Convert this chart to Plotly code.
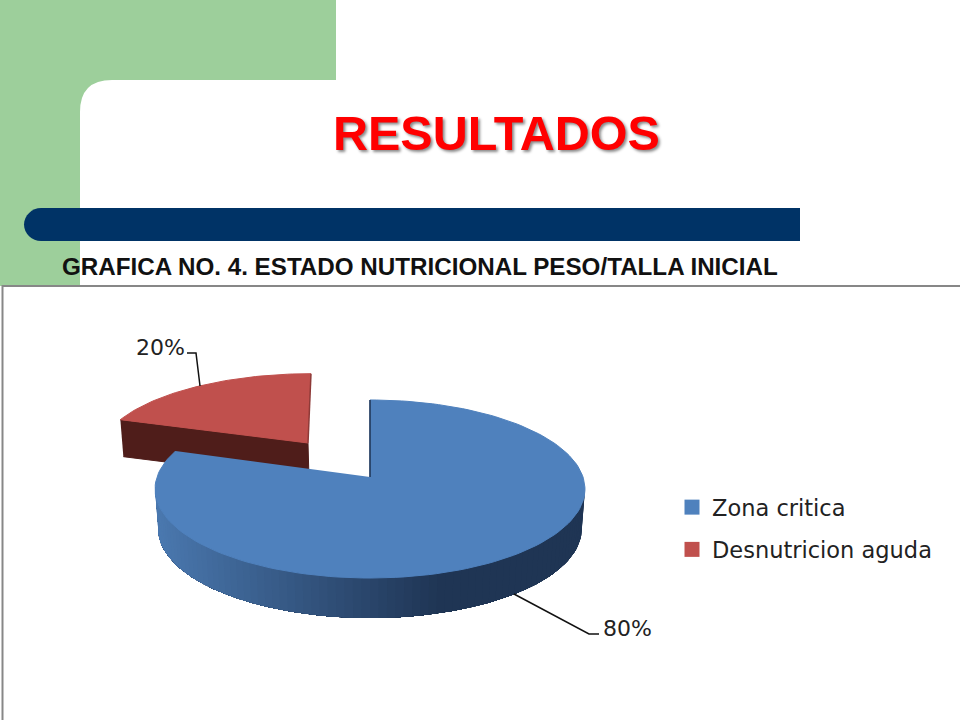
import numpy as np
import plotly.graph_objects as go

# Datos de la grafica
categorias = ["Zona critica", "Desnutricion aguda"]
valores = [80, 20]
colores = ["#4f81bd", "#c0504d"]
titulo = "RESULTADOS"
subtitulo = "GRAFICA NO. 4. ESTADO NUTRICIONAL PESO/TALLA INICIAL"


def rim(theta, apex_x, apex_y, sx=1.0, sy=1.0, drop=0, shear=0.0):
    # borde de la torta en perspectiva, theta en grados desde arriba (sentido horario)
    u = np.sin(np.radians(theta))
    v = np.cos(np.radians(theta))
    w = 1 + 0.1348 * v
    y = apex_y + sy * (477 - 23.1 * v) / w - sy * 477 + drop
    x = apex_x + sx * 213 * u / w + shear * (apex_y - y)
    return x, y


def mix(c1, c2, t):
    a = [int(c1[i:i + 2], 16) for i in (1, 3, 5)]
    b = [int(c2[i:i + 2], 16) for i in (1, 3, 5)]
    return "rgb(%d,%d,%d)" % tuple(a[i] + (b[i] - a[i]) * t for i in range(3))


def poly(fig, x, y, color, line=None):
    fig.add_trace(go.Scatter(x=x, y=y, mode="lines", fill="toself", fillcolor=color,
                             line=dict(color=line or color, width=1 if line != "rgba(0,0,0,0)" else 0),
                             hoverinfo="skip", showlegend=False))


fig = go.Figure()

# angulos de cada rebanada a partir de los valores
fin_azul = valores[0] / sum(valores) * 360
fin_rojo = fin_azul + valores[1] / sum(valores) * 360

# rebanada roja (separada)
rx0, ry0 = 308, 443
th = np.linspace(fin_azul, fin_rojo, 50)
x, y = rim(th, rx0, ry0, sx=0.97, sy=0.9, shear=0.043)
xl, yl = x[0], y[0]
poly(fig, [xl, rx0, rx0 + 1, xl + 3], [yl, ry0, ry0 + 37, yl + 37], "#4f1d1a")
poly(fig, np.r_[rx0, x], np.r_[ry0, y], colores[1])
fig.add_trace(go.Scatter(x=[x[-1], rx0], y=[y[-1], ry0], mode="lines",
                         line=dict(color="#8e3a38", width=1.5), hoverinfo="skip", showlegend=False))

# pared lateral azul con degradado: cada tramo tapa al anterior para que no se vean cortes
bx0, by0 = 370, 477
pasos = np.linspace(96, 264, 85)
for i, a in enumerate(pasos[:-1]):
    tt = pasos[i:]
    x1, y1 = rim(tt, bx0, by0)
    x2, y2 = rim(tt, bx0, by0, sx=0.985, drop=40)
    t = min(1, max(0, (x1[0] - 156) / 290))
    col = mix("#4b79b0", "#1f3554", t)
    poly(fig, np.r_[x1, x2[::-1]], np.r_[y1, y2[::-1]], col, line="rgba(0,0,0,0)")

# rebanada azul
th = np.linspace(0, fin_azul, 150)
x, y = rim(th, bx0, by0)
poly(fig, np.r_[bx0, x], np.r_[by0, y], colores[0])
fig.add_trace(go.Scatter(x=[x[0], bx0], y=[y[0], by0], mode="lines",
                         line=dict(color="#1f3554", width=1.5), hoverinfo="skip", showlegend=False))

# leyenda
for i, (cat, col) in enumerate(zip(categorias, colores)):
    fig.add_trace(go.Scatter(x=[None], y=[None], mode="markers", name=cat, legendgroup=cat,
                             marker=dict(symbol="square", size=15, color=col)))

shapes = [
    # fondo verde de la diapositiva
    dict(type="rect", x0=0, x1=336, y0=0, y1=80, fillcolor="#9dcf9b", line_width=0, layer="below"),
    dict(type="rect", x0=0, x1=80, y0=0, y1=286, fillcolor="#9dcf9b", line_width=0, layer="below"),
    dict(type="path", path="M 80 80 L 112 80 Q 80 80 80 112 Z", fillcolor="#9dcf9b", line_width=0, layer="below"),
    # barra azul
    dict(type="path", path="M 800 208 L 41 208 C 32 208 24 215.5 24 224.5 C 24 233.5 32 241 41 241 L 800 241 Z",
         fillcolor="#003366", line_width=0, layer="below"),
    # marco del grafico
    dict(type="rect", x0=2.5, x1=962, y0=286, y1=722, fillcolor="white",
         line=dict(color="#878787", width=2), layer="below"),
    # lineas guia de las etiquetas
    dict(type="path", path="M 200 386 L 196 353 L 187 353", line=dict(color="#111", width=1.5)),
    dict(type="path", path="M 514 594 L 589 634 L 599 634", line=dict(color="#111", width=1.5)),
]

etiquetas = [
    dict(x=496, y=133, text="<b>%s</b>" % titulo,
         font=dict(family="Liberation Sans", size=48.5, color="#ff0000", shadow="2px 2px 3px #8a8a8a")),
    dict(x=419.5, y=266.5, text="<b>%s</b>" % subtitulo, font=dict(family="Liberation Sans", size=24.2, color="#111111")),
    dict(x=160, y=347, text="%d%%" % valores[1], font=dict(family="DejaVu Sans", size=22, color="#222222")),
    dict(x=627, y=628, text="%d%%" % valores[0], font=dict(family="DejaVu Sans", size=22, color="#222222")),
]

fig.update_layout(
    width=960, height=720, margin=dict(l=0, r=0, t=0, b=0),
    paper_bgcolor="white", plot_bgcolor="white",
    xaxis=dict(range=[0, 960], visible=False, fixedrange=True),
    yaxis=dict(range=[720, 0], visible=False, fixedrange=True),
    shapes=shapes,
    annotations=[dict(showarrow=False, xref="x", yref="y", **e) for e in etiquetas],
    legend=dict(x=0.70, y=0.325, xanchor="left", yanchor="top", tracegroupgap=10,
                font=dict(family="DejaVu Sans", size=22.5, color="#222222"), bgcolor="rgba(0,0,0,0)"),
)

fig.write_html("out.html", config={"displayModeBar": False},
               post_script="document.body.style.margin='0';")
